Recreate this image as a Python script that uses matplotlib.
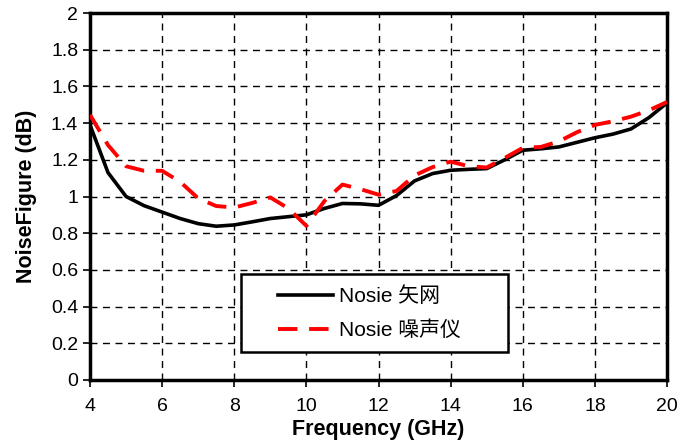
import matplotlib.pyplot as plt
from matplotlib.patches import Rectangle

plt.rcParams['font.family'] = ['Liberation Sans', 'Noto Sans CJK SC', 'DejaVu Sans']

freq_black = [4, 4.5, 5, 5.5, 6, 6.5, 7, 7.5, 8, 8.5, 9, 9.5, 10, 10.5, 11, 11.5, 12,
              12.5, 13, 13.5, 14, 14.5, 15, 15.5, 16, 16.5, 17, 17.5, 18, 18.5, 19, 19.5, 20]
nf_black = [1.39, 1.13, 1.0, 0.95, 0.915, 0.88, 0.852, 0.838, 0.845, 0.862, 0.88, 0.89, 0.90,
            0.935, 0.962, 0.96, 0.952, 1.005, 1.085, 1.125, 1.143, 1.148, 1.152, 1.2, 1.252,
            1.26, 1.27, 1.295, 1.32, 1.34, 1.368, 1.43, 1.51]

freq_red = [4, 4.5, 5, 5.5, 6, 6.5, 7, 7.5, 8, 8.5, 9, 9.5, 10, 10.5, 11, 11.5, 12,
            12.5, 13, 13.5, 14, 14.5, 15, 15.5, 16, 16.5, 17, 17.5, 18, 18.5, 19, 19.5, 20]
nf_red = [1.445, 1.28, 1.165, 1.14, 1.14, 1.08, 0.99, 0.948, 0.94, 0.965, 0.995, 0.935, 0.84,
          0.975, 1.065, 1.04, 1.01, 1.03, 1.115, 1.16, 1.19, 1.165, 1.158, 1.21, 1.265,
          1.27, 1.30, 1.35, 1.39, 1.41, 1.435, 1.47, 1.515]

xticks = [4, 6, 8, 10, 12, 14, 16, 18, 20]
yticks = [0, 0.2, 0.4, 0.6, 0.8, 1, 1.2, 1.4, 1.6, 1.8, 2]
ytick_labels = ['0', '0.2', '0.4', '0.6', '0.8', '1', '1.2', '1.4', '1.6', '1.8', '2']

fig = plt.figure(figsize=(6.88, 4.47), dpi=100)
ax = fig.add_axes([90 / 688, 67 / 447, 577 / 688, 367 / 447])

ax.plot(freq_black, nf_black, color='black', lw=2.6, label='Nosie 矢网', zorder=3)
ax.plot(freq_red, nf_red, color='red', lw=2.8, ls=(0, (5, 3)), label='Nosie 噪声仪', zorder=4)

ax.set_xlim(4, 20)
ax.set_ylim(0, 2)
ax.set_xticks(xticks)
ax.set_yticks(yticks)
ax.set_yticklabels(ytick_labels)
ax.tick_params(labelsize=14, direction='out', length=5, width=1.2)
ax.tick_params(axis='x', pad=8)
ax.grid(True, color='black', ls=(0, (5, 4)), lw=1)
for s in ax.spines.values():
    s.set_linewidth(2.5)

ax.set_xlabel('Frequency (GHz)', fontsize=15.5, fontweight='bold', labelpad=3)
ax.set_ylabel('NoiseFigure (dB)', fontsize=15.5, fontweight='bold', labelpad=10)

# legend frame drawn separately to match the wide box of the original
ax.add_patch(Rectangle((0.262, 0.076), 0.462, 0.214, transform=ax.transAxes,
                       facecolor='white', edgecolor='black', lw=1.8, zorder=5))
leg = ax.legend(loc='upper left', bbox_to_anchor=(0.325, 0.255), frameon=False,
                fontsize=15, borderpad=0, borderaxespad=0, handlelength=2.65,
                handletextpad=0.3, labelspacing=0.7)
leg.set_zorder(6)

fig.savefig('out.png', dpi=100)
